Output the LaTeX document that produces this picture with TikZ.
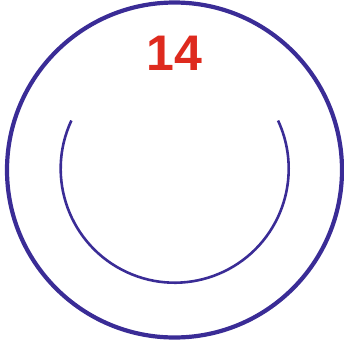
\documentclass[tikz,border=0pt]{standalone}
\usepackage{fontspec}
\setmainfont{Liberation Sans}
\definecolor{ringblue}{RGB}{58,44,150}
\definecolor{numred}{RGB}{222,42,30}
\usetikzlibrary{positioning}

\begin{document}
\begin{tikzpicture}[x=1pt,y=-1pt,
  ringline/.style={draw=ringblue,line width=4.2pt},
  arcline/.style={draw=ringblue,line width=2.6pt}
]
  \useasboundingbox (0,0) rectangle (344,346);
  % outer ring
  \draw[ringline] (174.5,170) circle[radius=167.5];
  % inner open arc
  \coordinate (mid) at (174.7,168.7);
  \draw[arcline] (mid) ++(205:114) arc[start angle=205,end angle=-25,radius=114];
  % number
  \node[anchor=base,inner sep=0pt,font=\fontsize{50}{50}\selectfont\bfseries,text=numred] (num) at (174.5,70.5) {14};
\end{tikzpicture}
\end{document}
